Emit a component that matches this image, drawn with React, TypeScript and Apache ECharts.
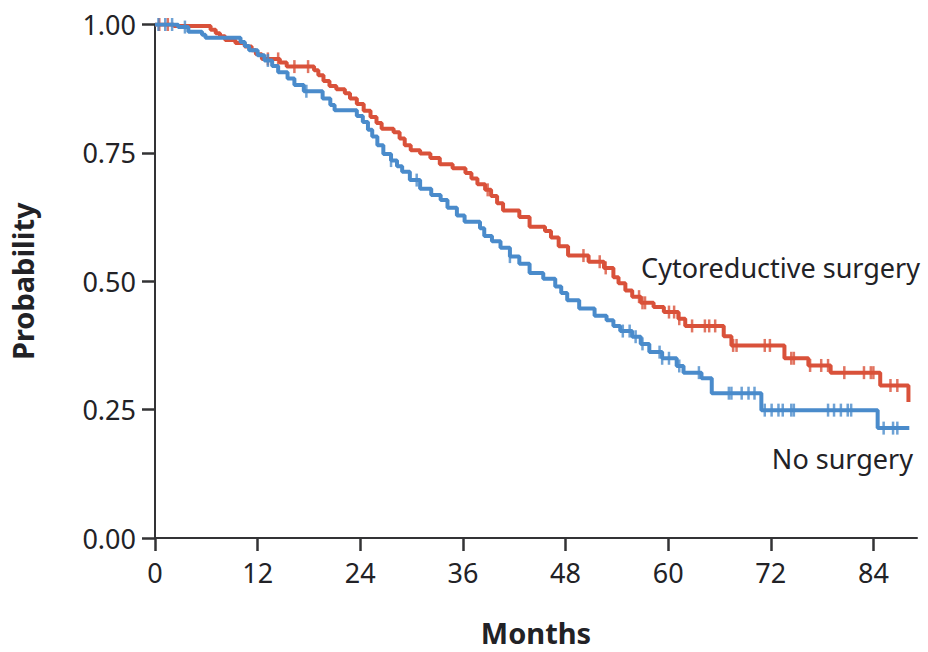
import React, { useEffect, useRef } from "react";
import * as echarts from "echarts";

// Kaplan-Meier step data (months, survival probability after the step)
const surgeryTimes = [0, 2.2, 6.5, 7.1, 7.6, 8.2, 9.4, 10.5, 11.3, 11.8, 12.5, 14.6, 15.4, 18.6, 19.1, 19.7, 20.4, 21.2, 22.2, 22.8, 23.6, 24.4, 25.2, 25.9, 26.5, 27.9, 28.6, 29.2, 29.9, 31.0, 32.2, 33.3, 34.8, 36.3, 37.0, 37.7, 38.6, 39.3, 40.0, 40.7, 42.6, 43.8, 45.6, 46.3, 47.2, 48.3, 50.7, 52.5, 53.6, 54.2, 55.0, 55.8, 56.8, 58.3, 59.5, 61.2, 62.0, 66.5, 67.4, 73.6, 76.4, 79.0, 84.8, 88.1];
const surgerySurv = [1.0, 0.997, 0.99, 0.983, 0.977, 0.97, 0.964, 0.957, 0.95, 0.942, 0.933, 0.926, 0.918, 0.911, 0.901, 0.89, 0.88, 0.874, 0.866, 0.856, 0.845, 0.832, 0.82, 0.808, 0.797, 0.79, 0.778, 0.765, 0.755, 0.749, 0.74, 0.728, 0.72, 0.711, 0.7, 0.689, 0.678, 0.666, 0.652, 0.638, 0.625, 0.606, 0.598, 0.585, 0.568, 0.55, 0.538, 0.526, 0.508, 0.496, 0.482, 0.47, 0.458, 0.45, 0.44, 0.427, 0.413, 0.393, 0.375, 0.35, 0.336, 0.322, 0.297, 0.265];
const surgeryCensored = [0.5, 1.5, 13.2, 14.4, 16.3, 17.9, 38.9, 50.1, 52.0, 52.7, 56.6, 57.0, 57.3, 60.1, 60.7, 61.3, 62.8, 64.3, 64.8, 65.5, 67.6, 68.0, 71.3, 71.9, 74.4, 74.7, 76.6, 77.9, 78.7, 80.6, 82.9, 83.7, 84.0, 86.0, 86.8];

const noSurgeryTimes = [0, 2.7, 3.9, 5.5, 5.9, 10.0, 10.5, 11.0, 12.0, 12.8, 13.7, 14.4, 15.5, 16.3, 17.4, 19.6, 20.5, 21.0, 23.6, 24.3, 24.9, 25.4, 26.0, 26.7, 27.6, 28.3, 28.9, 29.8, 31.0, 32.3, 33.4, 34.2, 35.3, 36.2, 38.0, 38.5, 39.4, 40.4, 41.5, 42.6, 43.8, 45.4, 46.8, 47.5, 48.2, 49.6, 51.4, 52.8, 53.6, 54.4, 55.8, 56.8, 57.8, 59.3, 61.0, 61.8, 63.9, 65.1, 70.9, 84.5, 88.2];
const noSurgerySurv = [1.0, 0.995, 0.986, 0.98, 0.974, 0.966, 0.958, 0.95, 0.94, 0.93, 0.919, 0.907, 0.895, 0.882, 0.87, 0.856, 0.843, 0.833, 0.822, 0.81, 0.795, 0.782, 0.765, 0.748, 0.735, 0.724, 0.713, 0.697, 0.68, 0.668, 0.658, 0.643, 0.628, 0.616, 0.603, 0.588, 0.578, 0.565, 0.548, 0.534, 0.516, 0.505, 0.49, 0.477, 0.463, 0.447, 0.433, 0.424, 0.413, 0.403, 0.392, 0.378, 0.362, 0.35, 0.335, 0.322, 0.311, 0.282, 0.249, 0.214, 0.214];
const noSurgeryCensored = [0.4, 1.2, 2.0, 3.5, 13.2, 17.7, 27.6, 30.6, 41.5, 54.7, 55.5, 56.2, 57.0, 59.0, 59.3, 60.1, 61.3, 63.6, 67.1, 67.4, 68.6, 69.4, 70.1, 71.3, 72.1, 72.9, 73.4, 74.4, 74.7, 78.7, 79.4, 80.2, 81.0, 81.4, 85.2, 86.3, 86.8];

const xTicks = [0, 12, 24, 36, 48, 60, 72, 84];
const yTicks = [0, 0.25, 0.5, 0.75, 1.0];

const RED = "#d9513a";
const BLUE = "#4a8bcb";
const AXIS = "#333335";
const TEXT = "#222226";
const FONT = "'Noto Sans', 'Open Sans', sans-serif";

function survivalAt(times: number[], surv: number[], t: number): number {
  let s = surv[0];
  for (let i = 0; i < times.length; i++) {
    if (times[i] <= t) s = surv[i];
    else break;
  }
  return s;
}

export default function App() {
  const ref = useRef<HTMLDivElement>(null);
  useEffect(() => {
    if (!ref.current) return;
    const chart = echarts.init(ref.current, undefined, { renderer: "svg" });
    const redLine = surgeryTimes.map((t, i) => [t, surgerySurv[i]]);
    const blueLine = noSurgeryTimes.map((t, i) => [t, noSurgerySurv[i]]);
    const redCens = surgeryCensored.map((t) => [t, survivalAt(surgeryTimes, surgerySurv, t)]);
    const blueCens = noSurgeryCensored.map((t) => [t, survivalAt(noSurgeryTimes, noSurgerySurv, t)]);

    chart.setOption({
      animation: false,
      backgroundColor: "#ffffff",
      grid: { left: 150, top: 24.5, right: 11, bottom: 107.5, containLabel: false },
      xAxis: {
        type: "value",
        min: 0,
        max: 89.1,
        interval: 12,
        name: "Months",
        nameLocation: "middle",
        nameGap: 80,
        nameTextStyle: { fontFamily: FONT, fontSize: 29, fontWeight: "bold", color: TEXT },
        axisLine: { show: true, lineStyle: { color: AXIS, width: 2 } },
        axisTick: { show: true, inside: false, length: 13, lineStyle: { color: AXIS, width: 2.5 } },
        axisLabel: {
          fontFamily: FONT,
          fontSize: 27,
          color: TEXT,
          margin: 21,
          showMaxLabel: false,
          formatter: (v: number) => (xTicks.includes(v) ? String(v) : ""),
        },
        splitLine: { show: false },
      },
      yAxis: {
        type: "value",
        min: 0,
        max: 1,
        interval: 0.25,
        name: "Probability",
        nameLocation: "middle",
        nameGap: 118,
        nameRotate: 90,
        nameTextStyle: { fontFamily: FONT, fontSize: 29, fontWeight: "bold", color: TEXT },
        axisLine: { show: true, lineStyle: { color: AXIS, width: 2 } },
        axisTick: { show: true, inside: false, length: 13, lineStyle: { color: AXIS, width: 2.5 } },
        axisLabel: {
          fontFamily: FONT,
          fontSize: 27,
          color: TEXT,
          margin: 19,
          formatter: (v: number) => (yTicks.includes(v) ? v.toFixed(2) : ""),
        },
        splitLine: { show: false },
      },
      series: [
        {
          name: "Cytoreductive surgery",
          type: "line",
          step: "end",
          data: redLine,
          showSymbol: false,
          lineStyle: { color: RED, width: 4 },
          z: 2,
        },
        {
          name: "Cytoreductive surgery censored",
          type: "scatter",
          data: redCens,
          symbol: "rect",
          symbolSize: [2.5, 13],
          itemStyle: { color: RED },
          z: 2,
        },
        {
          name: "No surgery",
          type: "line",
          step: "end",
          data: blueLine,
          showSymbol: false,
          lineStyle: { color: BLUE, width: 4 },
          z: 3,
        },
        {
          name: "No surgery censored",
          type: "scatter",
          data: blueCens,
          symbol: "rect",
          symbolSize: [2.5, 13],
          itemStyle: { color: BLUE },
          z: 3,
        },
      ],
      graphic: [
        {
          type: "text",
          right: 8,
          top: 254,
          style: { text: "Cytoreductive surgery", fontFamily: FONT, fontSize: 27, fill: TEXT },
        },
        {
          type: "text",
          right: 15,
          top: 445,
          style: { text: "No surgery", fontFamily: FONT, fontSize: 27, fill: TEXT },
        },
      ],
    });
    return () => chart.dispose();
  }, []);

  return (
    <div
      ref={ref}
      style={{ position: "fixed", left: 0, top: 0, width: 928, height: 652, background: "#fff" }}
    />
  );
}
